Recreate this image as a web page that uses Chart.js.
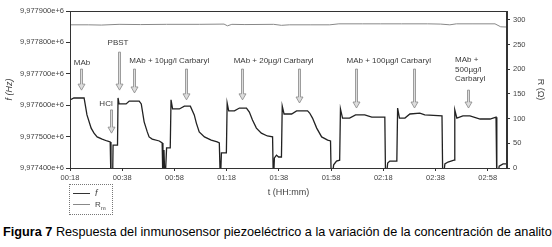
<!DOCTYPE html>
<html><head><meta charset="utf-8">
<script src="https://cdn.jsdelivr.net/npm/chart.js@4"></script>
<style>
html,body{margin:0;padding:0;background:#fff;}
#wrap{position:relative;width:552px;height:247px;overflow:hidden;font-family:Arial,"Liberation Sans",sans-serif;background:#fff;}
#c{position:absolute;left:0;top:0;}
#legend{position:absolute;left:69px;top:184px;width:44px;height:31px;border:1px dotted #777;box-sizing:border-box;color:#444;font-size:8px;}
.row{position:absolute;left:3px;height:10px;line-height:10px;white-space:nowrap;}
.ln{display:inline-block;width:17px;vertical-align:middle;margin-right:5px;}
#caption{position:absolute;left:3px;top:225px;font-size:12.7px;white-space:nowrap;color:#000;line-height:14px;}
</style></head>
<body>
<div id="wrap">
<canvas id="c" width="552" height="205"></canvas>
<div id="legend">
  <div class="row" style="top:3px;"><span class="ln" style="border-top:1px solid #333;"></span><i style="font-size:9px;">f</i></div>
  <div class="row" style="top:15px;"><span class="ln" style="border-top:1px solid #888;"></span>R<sub style="font-size:6px;">m</sub></div>
</div>
<div id="caption"><b>Figura 7</b> Respuesta del inmunosensor piezoeléctrico a la variación de la concentración de analito</div>
</div>
<script>
// ---- data ----
const xTickLabels = ['00:18','00:38','00:58','01:18','01:38','01:58','02:18','02:38','02:58'];
const fTicks = [9977400, 9977500, 9977600, 9977700, 9977800, 9977900];
const rTicks = [0, 50, 100, 150, 200, 250, 300];

// f series: time (min) and frequency (Hz)
const fTime = [18,19.5,23.4,24.5,26.1,27.2,28.4,30.3,32.2,33.4,33.7,34.3,34.5,36.2,36.4,36.8,39.5,40.7,44.5,45.3,
  46.4,47.6,48.3,49.5,52.2,53.3,53.6,54.0,54.4,55.0,56.4,56.7,57.3,59.9,61.8,64.1,65.6,66.4,67.5,69.5,
  72.1,74.4,75.2,75.6,76.0,77.9,78.2,78.8,81.0,82.9,85.6,86.7,87.9,89.4,91.3,93.6,95.6,95.9,96.3,97.1,
  97.9,99.0,99.3,100.0,102.9,104.8,109.0,109.8,110.9,112.5,114.4,116.7,117.8,118.1,119.0,120.1,121.3,121.6,122.4,125.1,
  127.4,130.9,133.6,138.6,138.9,139.7,140.5,143.2,143.5,144.2,146.3,148.2,152.0,153.9,160.5,160.8,161.6,162.8,165.1,165.4,
  166.2,168.5,171.2,175.1,178.9,181.2,181.5,182.4,183.9,185.4];
const fHz = [9977617,9977623,9977623,9977569,9977527,9977511,9977499,9977492,9977486,9977483,9977350,9977350,9977473,9977473,9977623,9977604,9977604,9977613,9977613,9977604,
  9977547,9977515,9977499,9977492,9977486,9977480,9977350,9977457,9977350,9977464,9977464,9977617,9977588,9977588,9977597,9977597,9977569,9977543,9977515,9977499,
  9977489,9977483,9977480,9977350,9977448,9977448,9977607,9977582,9977582,9977591,9977591,9977578,9977553,9977527,9977511,9977502,9977499,9977350,9977432,9977441,
  9977435,9977435,9977597,9977572,9977572,9977582,9977582,9977575,9977559,9977527,9977499,9977489,9977486,9977350,9977410,9977422,9977425,9977588,9977559,9977559,
  9977569,9977569,9977562,9977562,9977350,9977416,9977422,9977422,9977591,9977559,9977559,9977572,9977575,9977569,9977566,9977350,9977413,9977419,9977425,9977585,
  9977559,9977566,9977566,9977556,9977556,9977562,9977350,9977406,9977413,9977413];

// Rm series: time (min) and resistance (ohm)
const rTime = [18,25,30,36.8,45,55,67.5,77,78.3,80,85,96,99,102,110,117.5,121,130,137,145,155,160,163.5,166,172,180.8,183,185.4];
const rOhm  = [290,290,289.5,291,290.5,291,291,291.5,288,291,290.5,291,289,290,290,290,292,292,292,292,292,291.5,290,292,292,292,286,285.5];

// annotation texts (placed in data coordinates: minutes, Hz)
const noteTexts = [['MAb'],['PBST'],['HCl'],['MAb + 10µg/l Carbaryl'],['MAb + 20µg/l Carbaryl'],['MAb + 100µg/l Carbaryl'],['MAb +','500µg/l','Carbaryl']];
const noteTime  = [22.6, 36.4, 31.8, 56, 96, 140.1, 165.5];
const noteHz    = [9977734, 9977798, 9977604, 9977741, 9977741, 9977741, 9977744];
const arrowTime = [22.2, 36.8, 33.7, 42.6, 62.5, 84.0, 105.9, 127.4, 149.7, 170.4];
const arrowFrom = [9977715, 9977769, 9977585, 9977715, 9977715, 9977715, 9977715, 9977715, 9977715, 9977648];
const arrowTo   = [9977648, 9977648, 9977511, 9977639, 9977617, 9977617, 9977607, 9977591, 9977591, 9977591];

// ---- helpers ----
const toMin = s => { const [h,m] = s.split(':').map(Number); return h*60+m; };
const fmtTime = v => { const h = Math.floor(v/60), m = Math.round(v - h*60); return String(h).padStart(2,'0')+':'+String(m).padStart(2,'0'); };
const xTickVals = xTickLabels.map(toMin);

const FONT = 'Arial, "Liberation Sans", sans-serif';

const framePlugin = {
  id: 'frame',
  afterDatasetsDraw(chart) {
    const {ctx, chartArea: a, scales} = chart;
    ctx.save();
    ctx.strokeStyle = '#333'; ctx.lineWidth = 1;
    ctx.strokeRect(Math.round(a.left)+0.5, Math.round(a.top)+0.5, Math.round(a.right-a.left)-1, Math.round(a.bottom-a.top));
    // annotations
    const xs = scales.x, ys = scales.y;
    ctx.fillStyle = '#3a3a3a';
    ctx.font = '8px ' + FONT;
    ctx.textBaseline = 'middle';
    noteTexts.forEach((lines, i) => {
      const px = xs.getPixelForValue(noteTime[i]);
      const py = ys.getPixelForValue(noteHz[i]);
      ctx.textAlign = lines.length > 1 ? 'left' : 'center';
      lines.forEach((t, k) => ctx.fillText(t, px, py + k*9.5));
    });
    arrowTime.forEach((t, i) => {
      const px = Math.round(xs.getPixelForValue(t)) + 0.5;
      const y1 = ys.getPixelForValue(arrowFrom[i]);
      const y2 = ys.getPixelForValue(arrowTo[i]);
      const hh = 6, hw = 3.5, sw = 1;
      ctx.beginPath();
      ctx.moveTo(px - sw, y1);
      ctx.lineTo(px - sw, y2 - hh);
      ctx.lineTo(px - hw, y2 - hh);
      ctx.lineTo(px, y2);
      ctx.lineTo(px + hw, y2 - hh);
      ctx.lineTo(px + sw, y2 - hh);
      ctx.lineTo(px + sw, y1);
      ctx.closePath();
      ctx.fillStyle = '#ddd'; ctx.fill();
      ctx.strokeStyle = '#888'; ctx.lineWidth = 0.8; ctx.stroke();
    });
    ctx.restore();
  }
};

new Chart(document.getElementById('c'), {
  type: 'line',
  data: {
    datasets: [
      { label: 'f', data: fTime.map((t,i)=>({x:t, y:fHz[i]})), yAxisID: 'y',
        borderColor: '#222', borderWidth: 1.3, pointRadius: 0, tension: 0, fill: false },
      { label: 'Rm', data: rTime.map((t,i)=>({x:t, y:rOhm[i]})), yAxisID: 'y1',
        borderColor: '#888', borderWidth: 1, pointRadius: 0, tension: 0, fill: false }
    ]
  },
  options: {
    responsive: false, animation: false,
    layout: { padding: { top: 11, left: 0, right: 0, bottom: 0 } },
    plugins: { legend: { display: false }, tooltip: { enabled: false } },
    scales: {
      x: {
        type: 'linear', min: 18, max: 185.4,
        afterBuildTicks: s => { s.ticks = xTickVals.map(v => ({value: v})); },
        afterFit: s => { s.height = 37; },
        ticks: { callback: v => fmtTime(v), font: { size: 7.5, family: FONT }, color: '#444', padding: 2, maxRotation: 0, autoSkip: false },
        grid: { drawOnChartArea: false, drawTicks: true, tickLength: 3, color: '#333' },
        border: { display: true, color: '#333' },
        title: { display: true, text: 't (HH:mm)', font: { size: 9, family: FONT }, color: '#444', padding: { top: 0, bottom: 6.6 } }
      },
      y: {
        position: 'left', min: 9977400, max: 9977900,
        afterBuildTicks: s => { s.ticks = fTicks.map(v => ({value: v})); },
        afterFit: s => { s.width = 70; },
        ticks: { callback: v => (v/1e6).toFixed(6).replace('.', ',') + 'e+6', font: { size: 7.5, family: FONT }, color: '#444', padding: 2 },
        grid: { drawOnChartArea: false, drawTicks: true, tickLength: 4, color: '#333' },
        border: { display: true, color: '#333' },
        title: { display: true, text: 'f (Hz)', font: { size: 9, family: FONT, style: 'italic' }, color: '#444', padding: { top: 3.6, bottom: 0 } }
      },
      y1: {
        position: 'right', min: 0, max: 318,
        afterBuildTicks: s => { s.ticks = rTicks.map(v => ({value: v})); },
        afterFit: s => { s.width = 45; },
        ticks: { font: { size: 7.5, family: FONT }, color: '#444', padding: 3 },
        grid: { drawOnChartArea: false, drawTicks: true, tickLength: 3, color: '#333' },
        border: { display: true, color: '#333' },
        title: { display: true, text: 'R (Ω)', font: { size: 9, family: FONT }, color: '#444', padding: { top: 6.6, bottom: 0 } }
      }
    }
  },
  plugins: [framePlugin]
});
</script>
</body></html>
